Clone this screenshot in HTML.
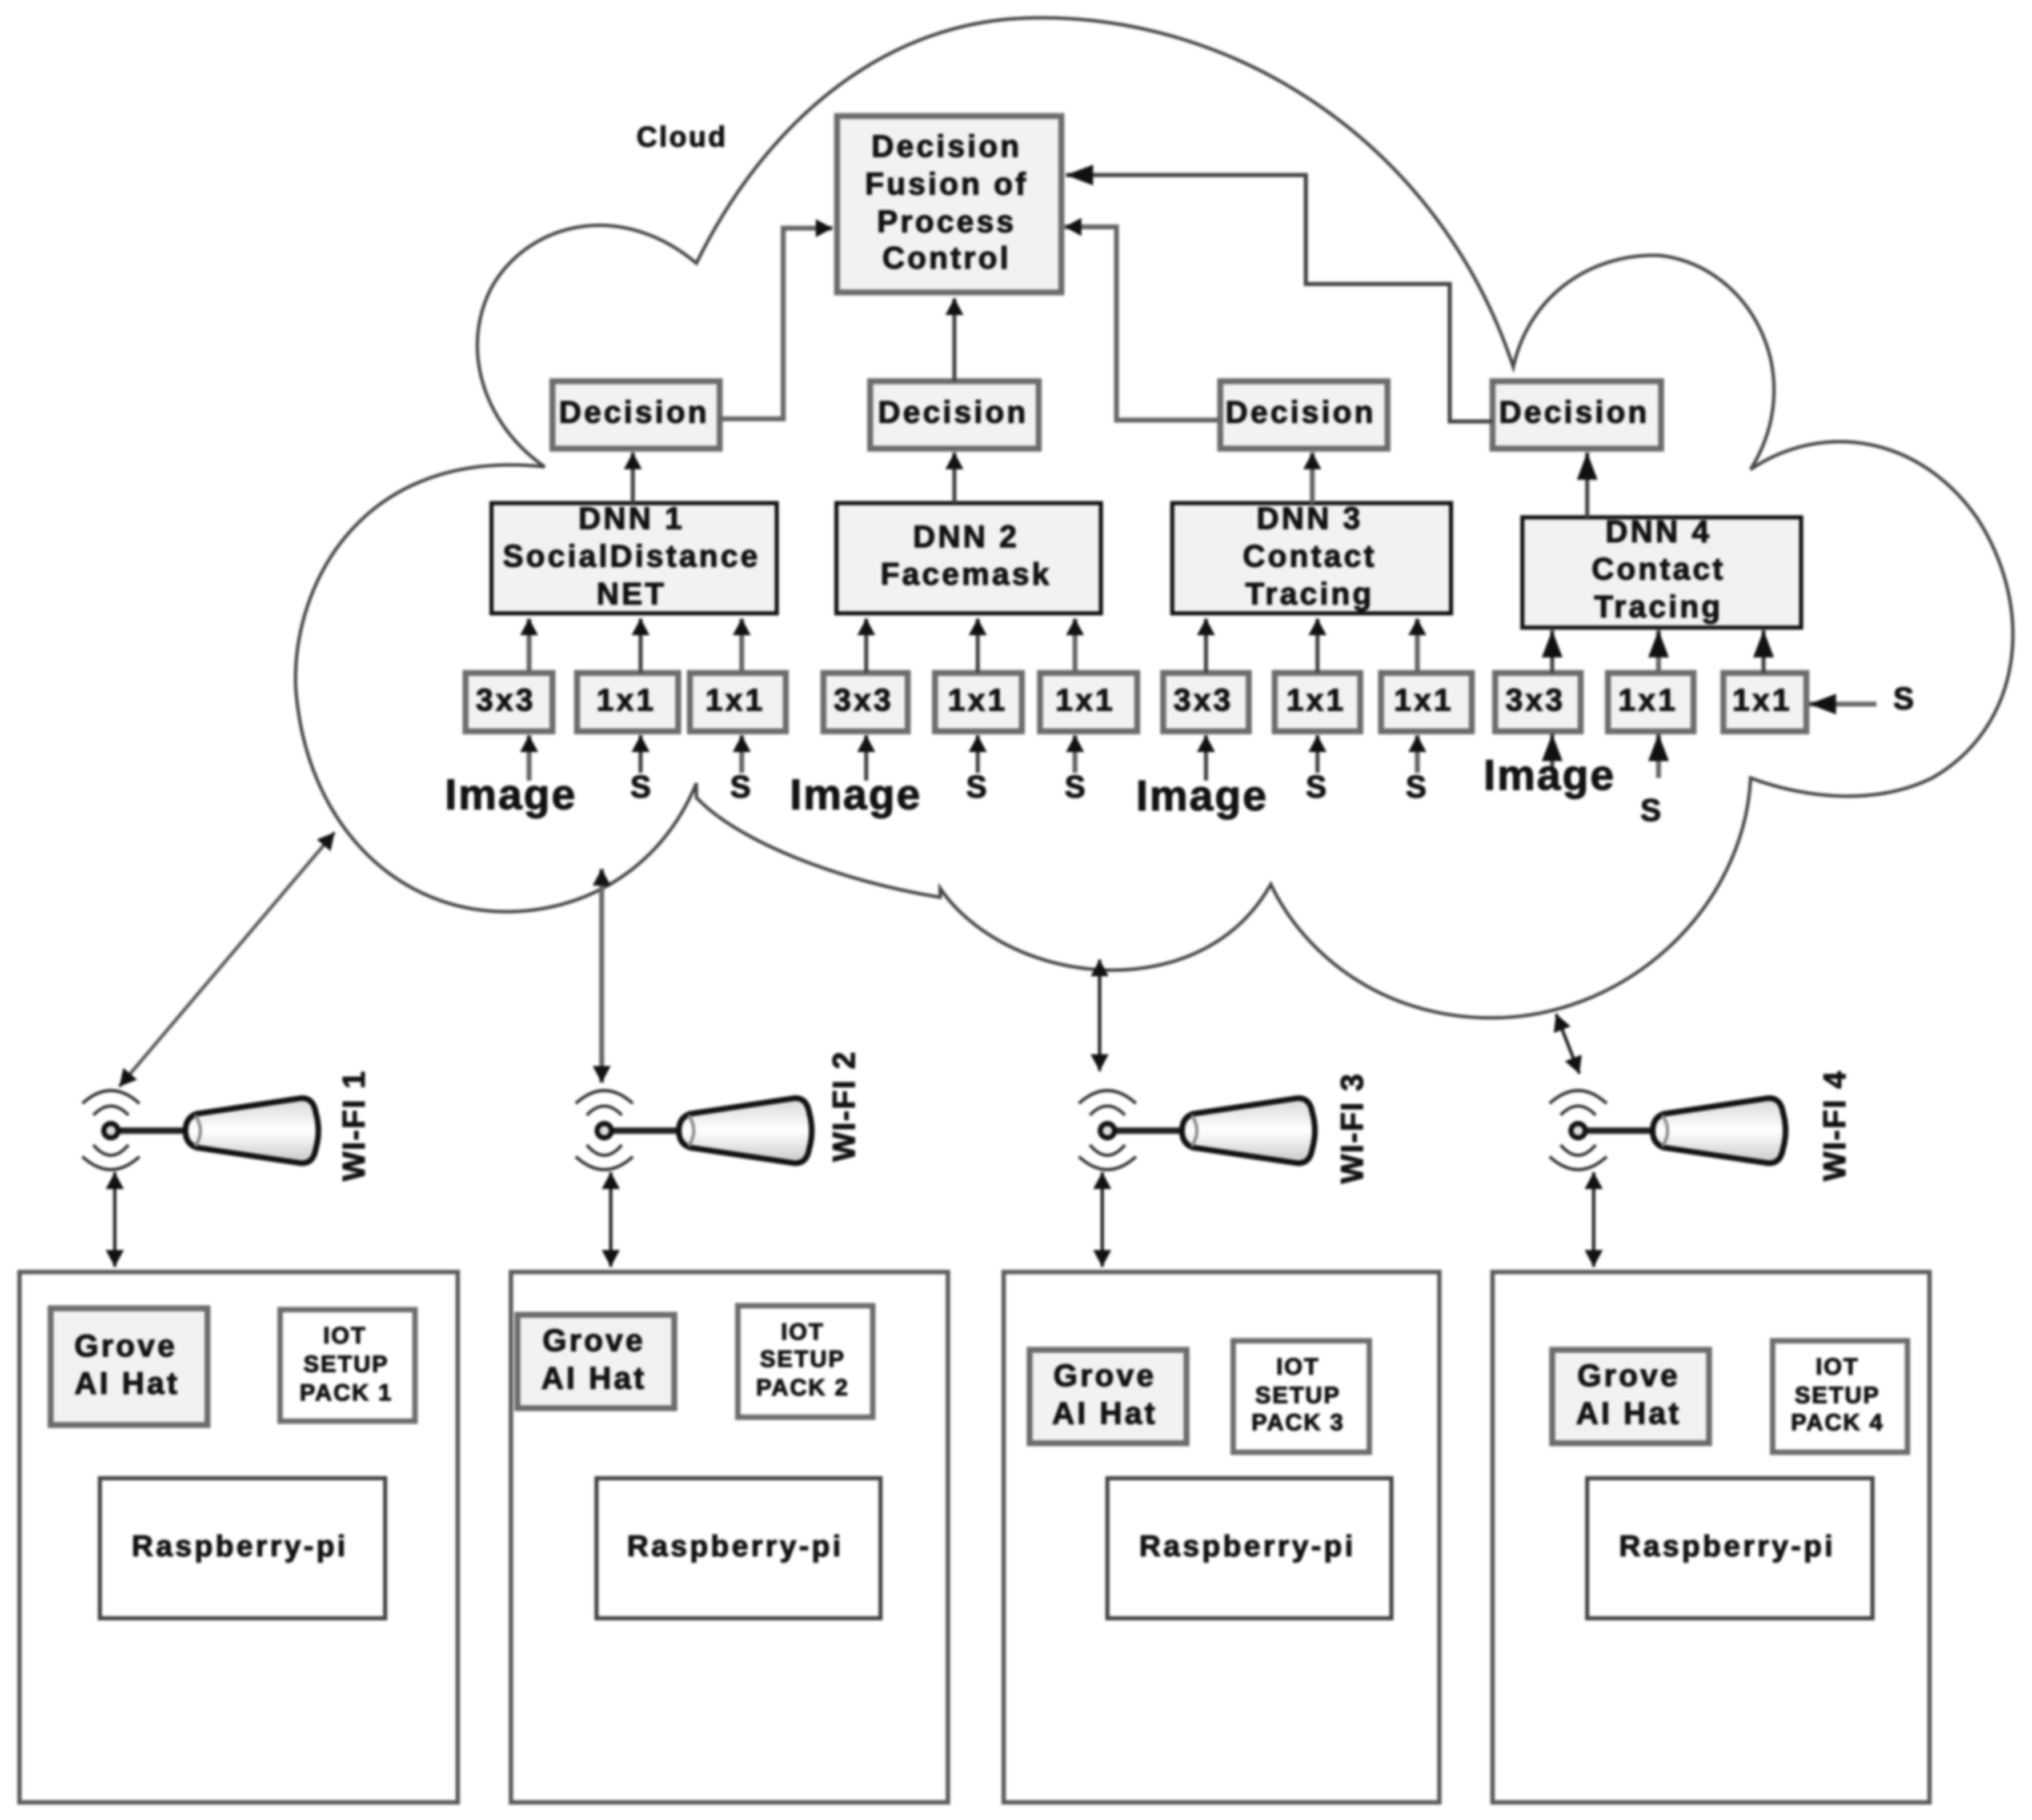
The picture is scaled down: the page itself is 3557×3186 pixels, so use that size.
<!DOCTYPE html>
<html><head><meta charset="utf-8">
<style>
html,body{margin:0;padding:0;background:#fff;width:3557px;height:3186px;overflow:hidden}
svg{display:block;filter:blur(2px)}
text{font-family:"Liberation Sans",sans-serif;font-weight:bold;fill:#111;text-anchor:middle;stroke:#111;stroke-width:.7}
.t{font-size:24px;letter-spacing:2px}
.c{font-size:22px;letter-spacing:1.6px}
.s{font-size:24px}
.i{font-size:33px;letter-spacing:1.3px}
.x{font-size:18px;letter-spacing:1.2px}
.r{font-size:23px;letter-spacing:2.1px}
.w{font-size:24px;letter-spacing:1px}
.g{fill:#f2f2f2;stroke:#6c6c6c;stroke-width:4.6}
.n{fill:#fff;stroke:#6c6c6c;stroke-width:4.2}
.d{fill:#f2f2f2;stroke:#111;stroke-width:3.2}
.p{fill:#fff;stroke:#5a5a5a;stroke-width:3.4}
.o{fill:#fff;stroke:#444;stroke-width:3.2}
.l{fill:none;stroke:#444;stroke-width:3.2}
.m{fill:none;stroke:#222;stroke-width:2.6}
.k{fill:none;stroke:#666;stroke-width:3.8}
</style></head>
<body>
<svg xmlns="http://www.w3.org/2000/svg" width="3557" height="3186" viewBox="0 0 1567 1403.6">
<defs>
<marker id="a" markerUnits="userSpaceOnUse" markerWidth="15" markerHeight="15" refX="13" refY="7" orient="auto-start-reverse"><path d="M0 0L13 7L0 14Z" fill="#111"/></marker>
<marker id="b" markerUnits="userSpaceOnUse" markerWidth="23" markerHeight="18" refX="21" refY="8" orient="auto"><path d="M0 0L21 8L0 16Z" fill="#111"/></marker>
<linearGradient id="c" x1="0" y1="0" x2="0" y2="1"><stop offset="0" stop-color="#d8d8d8"/><stop offset=".5" stop-color="#fff"/><stop offset="1" stop-color="#c8c8c8"/></linearGradient>
<g id="ant">
<path d="M-22-21Q0-41 22-21M-13.500-12Q0-26 13.500-12M-22 20Q0 40 22 20M-13.500 11Q0 27 13.500 11" fill="none" stroke="#333" stroke-width="2.4"/>
<path d="M6 0H58" stroke="#222" stroke-width="5"/>
<circle r="5.500" fill="#ddd" stroke="#111" stroke-width="4"/>
<path d="M66-13L146-25Q156-26 158-14Q162 0 158 14Q156 26 146 25L66 13Q57.500 10 57.500 0Q57.500-10 66-13Z" fill="url(#c)" stroke="#111" stroke-width="4.4"/>
<path d="M65-12Q73 0 65 12" fill="none" stroke="#888" stroke-width="2.4"/>
</g>
</defs>

<!-- Cloud -->
<path fill="none" stroke="#444" stroke-width="2.6" d="M537 203C590 95 680 18 790 14C950 8 1110 110 1167 283C1180 225 1230 195 1280 197C1350 205 1395 290 1350 362C1405 325 1480 335 1525 400C1570 470 1560 560 1490 600C1445 622 1390 615 1350 600C1345 700 1255 785 1150 785C1065 785 1005 735 980 682C950 735 895 750 850 748C790 745 745 715 725 685L725 692C650 680 570 650 537 615L537 604C510 670 450 705 385 703C300 700 235 630 228 530C225 450 280 345 420 360C370 325 355 265 380 220C410 170 480 155 537 203Z"/>
<text x="526" y="113" class="c">Cloud</text>

<!-- Fusion -->
<rect x="645.500" y="89.500" width="173" height="136" class="g"/>
<text x="730" y="121" class="t">Decision</text>
<text x="730" y="150" class="t">Fusion of</text>
<text x="730" y="179" class="t">Process</text>
<text x="730" y="207" class="t">Control</text>

<!-- Decision boxes -->
<rect x="426" y="294" width="129" height="52" class="g"/><text x="489" y="326" class="t">Decision</text>
<rect x="671" y="294" width="130" height="52" class="g"/><text x="735" y="326" class="t">Decision</text>
<rect x="941" y="294" width="129" height="52" class="g"/><text x="1003" y="326" class="t">Decision</text>
<rect x="1151" y="294" width="130" height="52" class="g"/><text x="1214" y="326" class="t">Decision</text>

<!-- DNN boxes -->
<rect x="379" y="388" width="220" height="85" class="d"/>
<text x="487" y="408" class="t">DNN 1</text><text x="487" y="437" class="t">SocialDistance</text><text x="487" y="466" class="t">NET</text>
<rect x="645" y="388" width="204" height="85" class="d"/>
<text x="745" y="422" class="t">DNN 2</text><text x="745" y="451" class="t">Facemask</text>
<rect x="904" y="388" width="215" height="85" class="d"/>
<text x="1010" y="408" class="t">DNN 3</text><text x="1010" y="437" class="t">Contact</text><text x="1010" y="466" class="t">Tracing</text>
<rect x="1174" y="399" width="215" height="85" class="d"/>
<text x="1279" y="418" class="t">DNN 4</text><text x="1279" y="447" class="t">Contact</text><text x="1279" y="476" class="t">Tracing</text>

<!-- Small boxes -->
<rect x="359" y="519" width="67" height="45" class="g"/><text x="390" y="548" class="t">3x3</text>
<rect x="445" y="519" width="78" height="45" class="g"/><text x="483" y="548" class="t">1x1</text>
<rect x="532" y="519" width="74" height="45" class="g"/><text x="567" y="548" class="t">1x1</text>
<rect x="635" y="519" width="65" height="45" class="g"/><text x="666" y="548" class="t">3x3</text>
<rect x="721" y="519" width="67" height="45" class="g"/><text x="754" y="548" class="t">1x1</text>
<rect x="802" y="519" width="75" height="45" class="g"/><text x="837" y="548" class="t">1x1</text>
<rect x="897" y="519" width="66" height="45" class="g"/><text x="928" y="548" class="t">3x3</text>
<rect x="983" y="519" width="66" height="45" class="g"/><text x="1015" y="548" class="t">1x1</text>
<rect x="1065" y="519" width="70" height="45" class="g"/><text x="1098" y="548" class="t">1x1</text>
<rect x="1153" y="519" width="66" height="45" class="g"/><text x="1184" y="548" class="t">3x3</text>
<rect x="1240" y="519" width="66" height="45" class="g"/><text x="1271" y="548" class="t">1x1</text>
<rect x="1329" y="519" width="64" height="45" class="g"/><text x="1359" y="548" class="t">1x1</text>

<!-- Main connectors -->
<path class="k" d="M555 323H604V176H642" marker-end="url(#a)"/>
<path class="l" d="M736 294V230" marker-end="url(#a)"/>
<path class="k" d="M941 324H861V175H821" marker-end="url(#a)"/>
<path class="l" d="M1151 325H1118V219H1007V135H822" marker-end="url(#b)"/>
<path class="l" d="M488 388V349" marker-end="url(#a)"/>
<path class="l" d="M736 388V349" marker-end="url(#a)"/>
<path class="k" d="M1012 388V349" marker-end="url(#a)"/>
<path class="l" d="M1224 399V349" marker-end="url(#b)"/>

<!-- Inputs -->
<path class="k" d="M408 519V477" marker-end="url(#a)"/><path class="l" d="M494 519V477" marker-end="url(#a)"/><path class="k" d="M572 519V477" marker-end="url(#a)"/>
<path class="l" d="M668 519V477" marker-end="url(#a)"/><path class="l" d="M754 519V477" marker-end="url(#a)"/><path class="k" d="M829 519V477" marker-end="url(#a)"/>
<path class="l" d="M930 519V477" marker-end="url(#a)"/><path class="l" d="M1016 519V477" marker-end="url(#a)"/><path class="k" d="M1093 519V477" marker-end="url(#a)"/>
<path class="l" d="M1197 519V486" marker-end="url(#b)"/><path class="k" d="M1279 519V486" marker-end="url(#b)"/><path class="l" d="M1360 519V486" marker-end="url(#b)"/>
<path class="k" d="M408 602V567" marker-end="url(#a)"/><path class="l" d="M494 596V567" marker-end="url(#a)"/><path class="k" d="M572 596V567" marker-end="url(#a)"/>
<path class="l" d="M668 602V567" marker-end="url(#a)"/><path class="l" d="M754 596V567" marker-end="url(#a)"/><path class="k" d="M829 596V567" marker-end="url(#a)"/>
<path class="l" d="M930 602V567" marker-end="url(#a)"/><path class="l" d="M1016 596V567" marker-end="url(#a)"/><path class="k" d="M1093 596V567" marker-end="url(#a)"/>
<path class="l" d="M1197 596V566" marker-end="url(#b)"/><path class="k" d="M1279 600V566" marker-end="url(#b)"/>
<path class="k" d="M1447 543H1395" marker-end="url(#b)"/>

<text x="394" y="624" class="i">Image</text><text x="660" y="624" class="i">Image</text><text x="927" y="625" class="i">Image</text><text x="1195" y="609" class="i">Image</text>
<text x="494" y="615" class="s">S</text><text x="571" y="615" class="s">S</text><text x="753" y="615" class="s">S</text><text x="829" y="615" class="s">S</text><text x="1015" y="615" class="s">S</text><text x="1092" y="615" class="s">S</text><text x="1273" y="633" class="s">S</text><text x="1468" y="547" class="s">S</text>

<!-- Cloud links -->
<path class="m" d="M92 838L258 642" marker-start="url(#a)" marker-end="url(#a)" style="stroke:#555"/>
<path class="k" d="M464 835V670" marker-start="url(#a)" marker-end="url(#a)"/>
<path class="m" d="M848 826V740" marker-start="url(#a)" marker-end="url(#a)"/>
<path class="m" d="M1218 828L1200 782" marker-start="url(#a)" marker-end="url(#a)"/>

<!-- Antennas -->
<use href="#ant" x="85.500" y="872"/><use href="#ant" x="466" y="872"/><use href="#ant" x="854" y="872"/><use href="#ant" x="1217" y="872"/>
<text transform="translate(281 868) rotate(-90)" class="w">WI-FI 1</text>
<text transform="translate(659 853) rotate(-90)" class="w">WI-FI 2</text>
<text transform="translate(1051 870) rotate(-90)" class="w">WI-FI 3</text>
<text transform="translate(1423 868) rotate(-90)" class="w">WI-FI 4</text>

<path class="m" d="M88.500 904V977" marker-start="url(#a)" marker-end="url(#a)"/>
<path class="m" d="M471 904V977" marker-start="url(#a)" marker-end="url(#a)"/>
<path class="m" d="M850 904V977" marker-start="url(#a)" marker-end="url(#a)"/>
<path class="m" d="M1229 904V977" marker-start="url(#a)" marker-end="url(#a)"/>

<!-- Bottom boxes -->
<rect x="15" y="981" width="338" height="409" class="p"/>
<rect x="394" y="981" width="337" height="409" class="p"/>
<rect x="774" y="981" width="336" height="409" class="p"/>
<rect x="1151" y="981" width="337" height="409" class="p"/>

<rect x="39" y="1009" width="121" height="90" class="g"/><text x="97" y="1046" class="t">Grove</text><text x="98" y="1075" class="t">AI Hat</text>
<rect x="399" y="1014" width="121" height="72" class="g"/><text x="458" y="1042" class="t">Grove</text><text x="458" y="1071" class="t">AI Hat</text>
<rect x="794" y="1041" width="121" height="72" class="g"/><text x="852" y="1069" class="t">Grove</text><text x="852" y="1098" class="t">AI Hat</text>
<rect x="1197" y="1041" width="121" height="72" class="g"/><text x="1256" y="1069" class="t">Grove</text><text x="1256" y="1098" class="t">AI Hat</text>

<rect x="216" y="1010" width="104" height="86" class="n"/><text x="266" y="1036" class="x">IOT</text><text x="267" y="1058" class="x">SETUP</text><text x="267" y="1080" class="x">PACK 1</text>
<rect x="569" y="1007" width="104" height="86" class="n"/><text x="619" y="1033" class="x">IOT</text><text x="619" y="1054" class="x">SETUP</text><text x="619" y="1076" class="x">PACK 2</text>
<rect x="951" y="1034" width="105" height="86" class="n"/><text x="1001" y="1060" class="x">IOT</text><text x="1001" y="1082" class="x">SETUP</text><text x="1001" y="1103" class="x">PACK 3</text>
<rect x="1367" y="1034" width="104" height="86" class="n"/><text x="1417" y="1060" class="x">IOT</text><text x="1417" y="1082" class="x">SETUP</text><text x="1417" y="1103" class="x">PACK 4</text>

<rect x="77" y="1140" width="220" height="108" class="o"/><text x="185" y="1200" class="r">Raspberry-pi</text>
<rect x="460" y="1140" width="219" height="108" class="o"/><text x="567" y="1200" class="r">Raspberry-pi</text>
<rect x="854" y="1140" width="219" height="108" class="o"/><text x="962" y="1200" class="r">Raspberry-pi</text>
<rect x="1224" y="1140" width="220" height="108" class="o"/><text x="1332" y="1200" class="r">Raspberry-pi</text>
</svg>
</body></html>
